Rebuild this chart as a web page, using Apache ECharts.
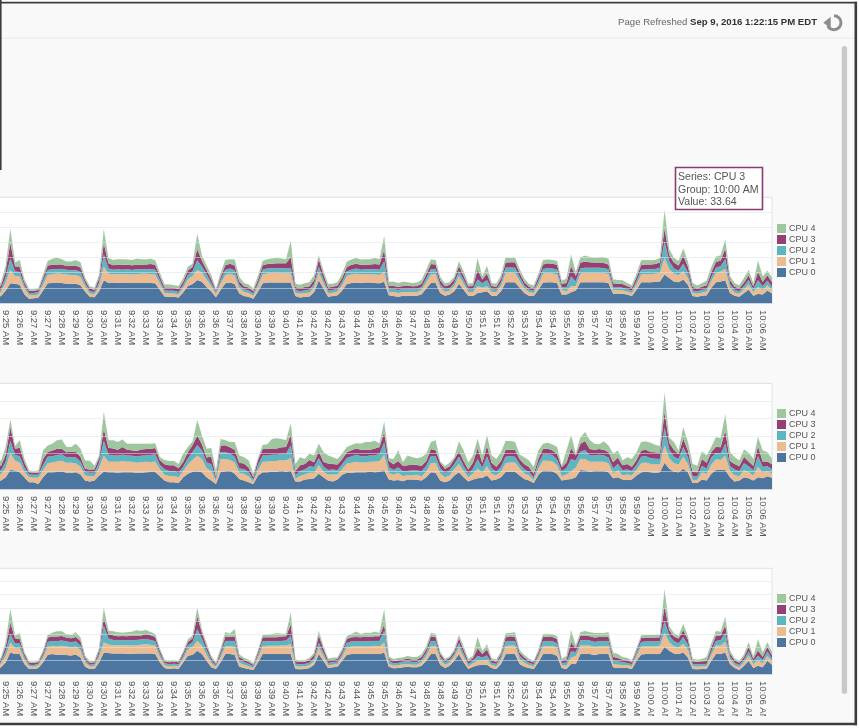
<!DOCTYPE html>
<html><head><meta charset="utf-8">
<style>html,body{margin:0;padding:0;background:#fff;overflow:hidden}#c{position:absolute;left:-20px;top:0;width:879px;height:728px}</style>
<script src="https://cdn.jsdelivr.net/npm/echarts@6/dist/echarts.min.js"></script>
</head><body><div id="c"></div>
<script>
const tickLabels=['9:25','9:26','9:27','9:27','9:28','9:29','9:30','9:30','9:31','9:32','9:33','9:33','9:34','9:35','9:36','9:36','9:37','9:38','9:39','9:39','9:40','9:41','9:42','9:42','9:43','9:44','9:45','9:45','9:46','9:47','9:48','9:48','9:49','9:50','9:51','9:51','9:52','9:53','9:54','9:54','9:55','9:56','9:57','9:57','9:58','9:59','10:00','10:00','10:01','10:02','10:03','10:03','10:04','10:05','10:06'];
const seriesNames=['CPU 0','CPU 1','CPU 2','CPU 3','CPU 4'];
const seriesColors=['#4c76a0','#ecbb8f','#5cb6bf','#953f75','#9fc79d'];

const a0=[14,18,33,52,51,48,23,11,12,14,33,52,53,54,53,51,51,51,47,30,16,15,31,60,53,54,53,54,53,53,53,53,53,53,52,35,17,16,16,14,28,45,50,61,56,42,30,15,35,52,54,50,25,18,16,11,30,52,54,54,54,54,54,54,18,14,16,17,28,60,38,16,18,20,33,50,53,54,53,54,54,53,52,56,20,18,16,19,18,19,19,23,38,53,53,26,19,22,31,51,35,19,18,26,28,31,19,18,31,55,55,55,40,26,19,18,35,54,55,55,53,22,22,28,33,55,55,55,55,55,55,53,24,25,24,22,18,35,55,55,55,56,57,75,66,57,55,62,48,18,16,19,20,40,55,57,60,26,19,16,26,35,19,24,22,33,25];
const a1=[7,11,22,35,20,22,16,9,8,8,16,22,23,24,24,24,23,23,22,14,9,8,14,36,24,22,23,22,23,22,23,24,24,23,23,16,9,9,9,8,12,18,21,26,24,20,14,8,16,22,23,22,14,11,10,8,14,23,24,25,25,25,24,24,9,10,10,10,13,21,15,9,9,10,14,21,22,23,22,22,22,22,22,26,9,10,10,9,10,9,9,11,16,22,23,14,10,10,14,20,16,10,10,18,12,13,10,10,14,24,25,24,18,12,9,8,14,23,24,23,22,12,9,16,12,22,24,24,24,24,24,23,10,9,9,8,8,14,20,21,21,21,22,44,24,20,18,22,18,8,8,8,10,18,24,26,30,14,8,8,10,14,10,18,12,14,10];
const a2=[6,7,14,30,12,12,8,6,6,6,9,13,13,12,13,13,12,13,13,8,6,6,9,32,14,12,13,12,13,12,13,12,12,13,13,9,7,7,7,7,8,11,12,26,16,13,9,5,9,13,14,14,9,7,7,6,9,13,13,13,13,13,13,14,7,7,7,8,9,15,10,7,7,7,9,12,13,14,13,13,13,14,14,28,8,8,8,8,9,8,8,8,11,14,13,9,7,7,8,13,10,7,8,18,12,16,8,7,9,14,14,14,10,8,7,6,9,13,13,13,13,8,10,26,12,14,14,14,14,14,13,13,8,8,7,6,6,9,13,13,13,13,14,44,20,14,12,20,14,7,6,7,7,10,14,14,26,10,7,7,9,12,7,18,10,12,8];
const a3=[8,10,16,42,14,14,8,6,6,6,9,12,12,12,12,10,12,12,12,8,7,6,11,30,14,12,13,13,12,13,12,12,13,14,13,10,8,9,8,8,9,12,13,30,16,12,10,5,9,13,13,13,9,8,8,6,9,12,12,12,13,13,14,30,8,8,9,9,11,20,13,9,9,9,10,12,13,13,13,12,13,14,14,30,9,9,9,9,9,8,9,9,11,14,13,11,8,9,9,14,11,8,9,26,10,18,8,8,10,14,14,15,11,9,8,7,10,12,13,13,13,9,12,28,14,16,16,15,14,14,14,13,10,9,10,9,8,10,13,13,13,13,14,34,18,16,14,22,16,10,8,9,10,13,16,15,28,11,9,8,9,12,8,22,12,14,12];
const a4=[9,8,14,36,10,18,8,5,4,5,8,12,16,18,14,12,12,14,14,7,6,5,10,36,14,14,14,15,14,14,16,15,13,14,12,9,8,8,7,8,9,10,8,40,14,12,10,4,10,14,12,16,12,9,8,7,10,11,13,14,14,13,11,42,9,9,10,11,12,10,9,9,8,9,11,14,14,15,14,15,14,16,14,36,10,11,10,11,9,9,9,10,12,12,12,9,8,7,8,12,12,7,8,30,8,20,8,8,9,14,11,12,10,9,7,7,9,12,10,10,10,8,12,30,10,14,16,14,13,14,15,15,10,10,10,8,7,9,12,12,11,11,12,48,14,13,12,18,14,9,8,9,12,14,14,14,24,10,9,8,12,14,8,30,14,12,12];

const b0=[21,24,33,54,52,47,33,19,19,14,33,47,47,48,50,46,46,47,41,24,21,24,38,49,47,47,46,47,47,47,46,46,47,48,48,36,24,19,19,17,33,43,49,50,47,33,24,14,49,50,52,43,28,24,19,14,38,47,47,49,49,52,49,52,21,21,27,28,30,43,33,24,21,27,40,46,46,47,47,47,49,47,49,54,27,24,25,22,27,27,26,24,33,47,46,24,19,24,38,47,33,21,27,30,32,38,24,27,33,49,49,49,38,28,24,17,40,52,52,50,43,24,27,28,33,54,52,49,51,51,51,47,30,33,27,25,27,38,47,49,47,46,47,74,57,49,47,57,47,17,17,27,24,43,54,54,54,33,21,24,33,30,24,33,30,36,32];
const b1=[22,18,26,48,28,28,16,14,13,18,20,26,28,30,30,28,28,26,22,14,15,12,22,45,30,30,31,32,30,30,28,30,30,28,30,20,16,18,18,16,18,26,34,44,38,26,26,8,36,34,30,32,18,18,16,6,16,30,30,30,30,30,32,36,8,16,14,18,16,24,16,16,20,14,16,26,28,30,28,28,28,30,30,42,18,16,20,14,12,12,14,12,16,26,28,20,14,14,18,24,18,12,16,28,14,26,18,12,16,24,26,26,20,16,14,8,18,28,28,28,24,12,14,22,28,32,32,28,26,26,26,26,14,20,12,16,12,16,26,26,24,24,22,49,30,24,22,34,24,8,8,20,18,26,30,28,41,18,18,12,20,18,14,30,16,14,12];
const b2=[10,10,18,34,16,18,12,8,8,8,14,18,18,18,18,16,16,16,14,10,10,10,14,42,20,18,18,18,18,17,18,18,18,20,20,12,16,14,14,12,12,18,22,30,24,16,20,6,20,20,18,16,12,14,12,6,14,18,18,18,18,18,18,36,10,14,14,18,16,20,14,14,14,12,14,16,18,20,18,18,18,18,20,36,16,14,16,14,12,14,12,14,16,20,18,14,12,14,14,20,14,10,14,26,14,28,16,10,14,18,18,16,12,12,10,8,14,18,18,18,16,14,18,34,20,20,26,18,18,20,18,16,14,18,14,14,12,14,18,18,16,16,16,49,24,18,16,28,18,10,10,18,16,20,18,18,33,14,16,14,20,16,14,30,16,14,12];
const b3=[12,14,20,40,18,24,14,6,6,6,18,14,16,18,16,14,16,16,14,9,9,10,14,34,20,20,16,22,16,16,16,18,18,18,18,14,14,16,16,14,14,18,20,28,18,14,22,8,18,20,18,20,16,16,14,8,14,18,18,18,18,18,20,30,12,16,16,18,14,20,14,18,16,16,14,16,18,18,18,18,16,20,20,30,18,16,18,16,16,16,16,16,14,20,18,16,12,12,14,16,14,12,18,32,14,30,16,14,16,20,18,20,14,14,14,10,14,16,16,14,16,12,16,32,14,22,26,18,16,16,16,16,18,18,14,16,12,14,18,18,18,18,18,47,20,20,14,24,20,14,12,20,16,16,18,18,38,14,16,14,18,14,14,28,16,14,14];
const b4=[18,14,22,20,8,21,10,5,4,6,24,18,19,24,26,15,13,23,23,24,25,10,6,48,21,23,22,21,17,18,20,16,15,14,14,8,12,12,12,12,23,14,10,43,25,25,24,16,19,14,15,22,21,18,20,9,5,12,14,27,29,24,19,31,20,23,14,18,19,21,28,23,19,16,16,15,15,15,17,22,22,22,10,28,8,15,31,10,28,21,19,24,21,20,28,4,8,10,6,28,30,19,20,26,21,30,21,22,25,25,25,22,13,20,19,19,23,14,17,16,20,4,34,36,6,19,26,25,17,14,24,18,24,20,14,19,22,22,24,24,26,21,19,53,14,22,10,32,24,22,19,21,21,14,27,26,45,26,19,17,21,25,19,26,31,26,15];

const c0=[15,20,35,65,60,60,30,15,15,18,35,58,60,58,59,57,56,59,50,22,15,15,35,65,63,62,62,62,61,61,62,62,62,62,60,35,18,15,17,15,35,55,58,70,60,40,20,15,35,60,60,58,22,18,15,12,35,60,60,60,60,60,60,60,15,14,15,18,28,60,40,18,20,22,40,58,60,60,60,60,60,60,60,65,22,17,18,20,22,20,20,25,40,60,60,28,18,25,40,60,35,15,22,26,28,28,18,15,30,60,60,60,30,22,18,15,35,60,60,60,55,18,15,30,30,60,60,60,57,60,60,60,20,18,18,18,15,40,59,60,60,60,60,82,70,62,60,65,50,15,14,15,15,40,60,60,65,30,18,12,25,40,18,25,20,40,28];
const c1=[8,10,20,30,18,18,14,8,7,8,14,24,25,25,26,26,25,24,22,12,8,8,16,30,26,25,25,25,26,25,25,26,28,26,25,16,8,8,8,8,12,20,24,30,26,18,12,6,14,24,24,24,12,10,8,6,14,24,25,25,25,26,26,30,9,8,8,8,10,20,14,8,8,8,12,22,23,24,24,24,24,25,24,30,9,8,8,9,8,8,8,10,14,24,25,14,10,9,12,20,16,8,10,14,12,14,8,8,12,24,26,25,14,12,8,8,14,24,24,25,24,8,10,20,24,26,26,26,25,24,24,25,10,10,9,8,8,14,24,24,24,24,25,43,26,22,20,26,24,8,8,8,8,18,26,26,32,14,8,8,10,16,12,16,12,14,10];
const c2=[5,6,14,25,14,14,8,5,5,5,8,15,15,16,16,15,15,15,14,8,5,6,10,50,18,16,15,15,15,16,16,16,16,15,14,10,6,6,6,6,8,12,14,35,20,14,8,5,10,16,16,18,9,8,7,5,9,15,14,14,14,14,15,25,7,7,7,8,10,14,10,7,7,7,9,14,15,14,14,15,15,15,16,35,8,7,7,8,8,8,8,8,10,16,15,9,7,7,8,14,10,7,8,14,10,14,7,7,10,14,14,14,10,8,7,6,9,15,15,14,14,7,9,18,12,16,16,15,15,15,15,14,10,10,8,7,6,9,14,14,14,14,14,35,20,15,13,20,14,7,7,7,7,10,14,16,26,9,7,7,8,12,8,14,10,14,8];
const c3=[6,8,14,35,16,14,8,6,6,5,8,13,13,14,14,12,12,14,14,7,6,6,10,25,14,14,12,13,12,14,13,12,15,14,13,9,6,6,6,6,8,10,12,40,18,12,8,5,10,13,12,14,8,7,6,5,8,12,12,12,12,13,13,35,7,7,7,8,9,22,12,8,8,8,8,12,13,14,13,14,13,14,14,20,8,7,8,7,8,8,8,8,10,14,12,9,6,7,8,14,12,8,8,24,10,18,8,7,8,13,14,13,10,8,7,6,8,14,13,13,13,7,10,28,12,14,14,13,13,13,13,13,12,10,8,8,6,8,12,12,12,12,12,45,16,14,14,22,16,8,8,8,9,12,16,14,24,9,8,7,8,14,8,16,10,14,10];
const c4=[6,6,14,40,8,18,6,4,4,4,6,8,12,16,14,10,10,14,10,6,5,4,8,30,10,12,12,10,12,12,16,14,12,10,9,6,5,5,4,5,6,8,8,25,10,8,6,4,8,14,10,22,8,6,7,4,6,7,8,10,12,9,8,35,6,5,5,6,7,14,8,6,6,5,7,8,10,16,10,12,12,14,10,45,6,6,7,6,8,7,7,8,10,10,10,6,5,5,6,10,10,7,7,34,8,16,6,7,8,12,10,14,8,7,6,5,7,8,10,8,8,6,10,36,8,10,14,12,14,12,12,14,12,12,8,7,6,7,8,8,8,8,8,50,12,10,8,18,10,8,6,7,12,12,14,12,26,8,6,6,8,14,6,34,12,14,10];

const chartData=[[a0,a1,a2,a3,a4],[b0,b1,b2,b3,b4],[c0,c1,c2,c3,c4]];
const yScales=[[280,40],[300,50],[320,40]];
const gridTops=[197.3,383.3,568.3];
const legendTops=[224,409,594];
const gridHeight=105.6;
const PAD=20; // the chart continues off the left of the page

const cats=a0.map((_,i)=>i%3===2?tickLabels[(i-2)/3]+' AM':'');
const legendData=seriesNames.slice().reverse().map(n=>({name:n,itemStyle:{color:seriesColors[seriesNames.indexOf(n)]},lineStyle:{opacity:0}}));
const grids=[],xAxes=[],yAxes=[],series=[],legends=[];
chartData.forEach((rows,g)=>{
  grids.push({left:PAD-3.67,width:775.7,top:gridTops[g],height:gridHeight,show:true,backgroundColor:'#fff',borderColor:'#dfe3ee',borderWidth:1,containLabel:false});
  xAxes.push({type:'category',gridIndex:g,data:cats,boundaryGap:false,
    axisLine:{lineStyle:{color:'#bcc6d4'}},axisTick:{show:false},splitLine:{show:false},
    axisLabel:{interval:(i)=>i%3===2,rotate:-90,margin:7,fontSize:9.5,color:'#555',fontFamily:'Liberation Sans',hideOverlap:false}});
  yAxes.push({type:'value',gridIndex:g,min:0,max:yScales[g][0],interval:yScales[g][1],z:5,
    axisLine:{show:false},axisTick:{show:false},axisLabel:{show:false},
    splitLine:{lineStyle:{color:'#dfe3ea',opacity:.55,width:1}}});
  rows.forEach((vals,s)=>series.push({type:'line',name:seriesNames[s],xAxisIndex:g,yAxisIndex:g,stack:'s'+g,data:vals,
    symbol:'none',z:2,itemStyle:{color:seriesColors[s]},
    lineStyle:{width:.5,color:'rgba(185,190,198,.3)'},areaStyle:{color:seriesColors[s],opacity:1}}));
  legends.push({orient:'vertical',left:PAD+777,top:legendTops[g],itemWidth:9,itemHeight:9,itemGap:2,padding:0,icon:'rect',selectedMode:false,
    data:legendData,textStyle:{fontSize:9,color:'#555',fontFamily:'Liberation Sans',padding:[0,0,0,-2]}});
});
const frame='#3d3d3d', bg='#f9f9fa';
const graphic=[
 {type:'rect',silent:true,z:-10,shape:{x:0,y:2,width:855,height:722},style:{fill:bg}},
 {type:'rect',silent:true,z:-9,shape:{x:0,y:37.4,width:855,height:1.2},style:{fill:'#e7eaec'}},
 {type:'rect',silent:true,z:50,shape:{x:0,y:716,width:855,height:7},style:{fill:bg}},
 {type:'rect',silent:true,z:51,shape:{x:841.7,y:46,width:5.4,height:648,r:2.7},style:{fill:'#c9c9c9'}},
 {type:'rect',silent:true,z:60,shape:{x:0,y:1.8,width:857,height:1.6},style:{fill:frame}},
 {type:'rect',silent:true,z:60,shape:{x:854.5,y:1.8,width:2.6,height:723.4},style:{fill:frame}},
 {type:'rect',silent:true,z:60,shape:{x:0,y:722.7,width:857,height:2.5},style:{fill:frame}},
 {type:'rect',silent:true,z:60,shape:{x:0,y:0,width:1.6,height:170},style:{fill:frame}},
 {type:'text',silent:true,z:60,style:{x:817,y:22.7,align:'right',verticalAlign:'middle',
   text:'{a|Page Refreshed }{b|Sep 9, 2016 1:22:15 PM EDT}',rich:{a:{fontSize:9.6,fill:'#666',fontFamily:'Liberation Sans'},b:{fontSize:9.6,fontWeight:'bold',fill:'#333',fontFamily:'Liberation Sans'}}}},
 {type:'arc',silent:true,z:60,shape:{cx:834,cy:22.7,r:7,startAngle:-Math.PI/2,endAngle:Math.PI*0.85,clockwise:true},style:{fill:'none',stroke:'#8d8d8d',lineWidth:3}},
 {type:'polygon',silent:true,z:60,shape:{points:[[823.3,22.7],[830.7,16.7],[830.7,28.3]]},style:{fill:'#8d8d8d'}},
 {type:'rect',silent:true,z:70,shape:{x:675.5,y:167.5,width:87,height:42},style:{fill:'#fff',stroke:'#8b3a72',lineWidth:1.6}},
 {type:'text',silent:true,z:71,style:{x:678,y:171,text:'Series: CPU 3\nGroup: 10:00 AM\nValue: 33.64',fontSize:10.6,lineHeight:12.5,fill:'#555',fontFamily:'Liberation Sans'}}
];
const chart=echarts.init(document.getElementById('c'),null,{renderer:'canvas'});
chart.setOption({animation:false,backgroundColor:'#fff',grid:grids,xAxis:xAxes,yAxis:yAxes,series,legend:legends,
  graphic:{elements:[{type:'group',x:PAD,y:0,z:50,silent:true,children:graphic.filter(e=>e.z>=0)},{type:'group',x:PAD,y:0,z:-10,silent:true,children:graphic.filter(e=>e.z<0)}]}});
</script></body></html>
